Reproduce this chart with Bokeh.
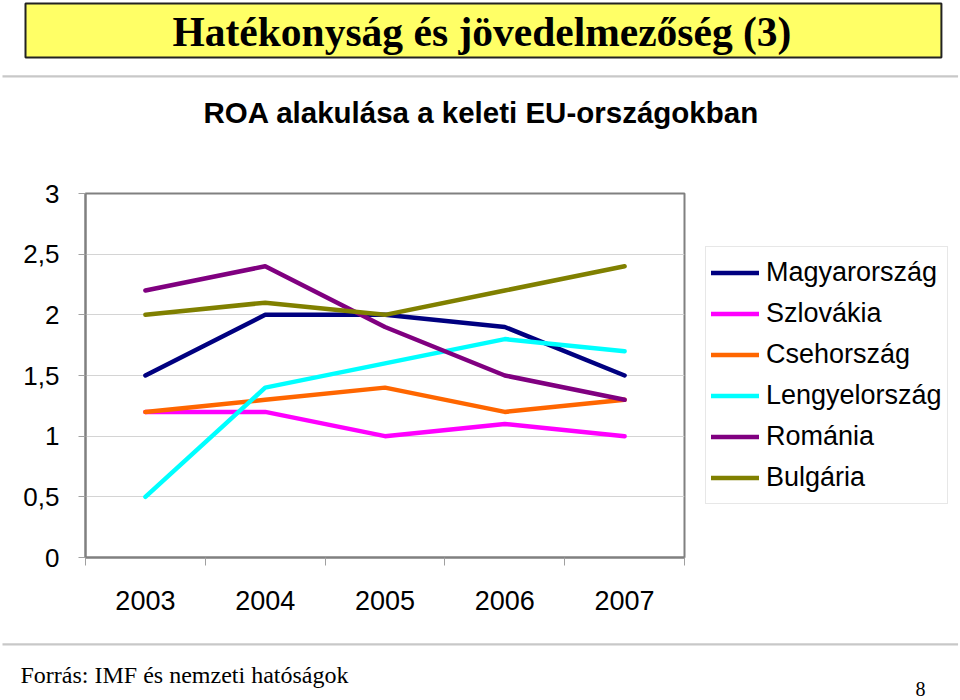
from bokeh.plotting import figure
from bokeh.models import Range1d, FixedTicker, Legend, LegendItem, Title
from bokeh.embed import file_html
from bokeh.resources import INLINE

# ---- data ----
years = [2003, 2004, 2005, 2006, 2007]
year_labels = ["2003", "2004", "2005", "2006", "2007"]
y_ticks = [0, 0.5, 1, 1.5, 2, 2.5, 3]
y_tick_labels = ["0", "0,5", "1", "1,5", "2", "2,5", "3"]

series_names = ["Magyarország", "Szlovákia", "Csehország",
                "Lengyelország", "Románia", "Bulgária"]
magyarorszag = [1.5, 2.0, 2.0, 1.9, 1.5]
szlovakia = [1.2, 1.2, 1.0, 1.1, 1.0]
csehorszag = [1.2, 1.3, 1.4, 1.2, 1.3]
lengyelorszag = [0.5, 1.4, 1.6, 1.8, 1.7]
romania = [2.2, 2.4, 1.9, 1.5, 1.3]
bulgaria = [2.0, 2.1, 2.0, 2.2, 2.4]
series_values = [magyarorszag, szlovakia, csehorszag,
                 lengyelorszag, romania, bulgaria]
colors = ["#000080", "#FF00FF", "#FF6600", "#00FFFF", "#800080", "#808000"]

main_title = "Hatékonyság és jövedelmezőség (3)"
chart_title = "ROA alakulása a keleti EU-országokban"
source_text = "Forrás: IMF és nemzeti hatóságok"
page_number = "8"

# ---- figure ----
FL, FT, FW, FH = 85, 193, 599, 364
FR, FB = FL + FW, FT + FH
p = figure(title=None, frame_width=FW, frame_height=FH,
           min_border_left=FL, min_border_right=960 - FR,
           min_border_top=FT, min_border_bottom=700 - FB,
           x_range=Range1d(years[0] - 0.5, years[-1] + 0.5),
           y_range=Range1d(y_ticks[0], y_ticks[-1]),
           output_backend="svg", toolbar_location=None,
           background_fill_color="white", border_fill_color="white")

p.outline_line_color = "#808080"
p.outline_line_width = 2

# x axis: labels at the years, small ticks between categories
p.xaxis.ticker = FixedTicker(ticks=years,
                             minor_ticks=[y - 0.5 for y in years] + [years[-1] + 0.5])
p.xaxis.major_label_overrides = {y: l for y, l in zip(years, year_labels)}
p.xaxis.major_tick_out = 0
p.xaxis.major_tick_in = 0
p.xaxis.minor_tick_out = 8
p.xaxis.minor_tick_in = 0
p.xaxis.minor_tick_line_color = "#A0A0A0"
p.xaxis.axis_line_color = "#808080"
p.xaxis.axis_line_width = 2
p.xaxis.major_label_standoff = 25
p.xaxis.major_label_text_font = "Liberation Sans"
p.xaxis.major_label_text_font_size = "27px"
p.xaxis.major_label_text_color = "black"

# y axis
p.yaxis.ticker = FixedTicker(ticks=y_ticks, minor_ticks=[])
p.yaxis.major_label_overrides = {t: l for t, l in zip(y_ticks, y_tick_labels)}
p.yaxis.major_tick_out = 7
p.yaxis.major_tick_in = 0
p.yaxis.major_tick_line_color = "#A0A0A0"
p.yaxis.minor_tick_line_color = None
p.yaxis.axis_line_color = "#808080"
p.yaxis.axis_line_width = 2
p.yaxis.major_label_standoff = 19
p.yaxis.major_label_text_font = "Liberation Sans"
p.yaxis.major_label_text_font_size = "26px"
p.yaxis.major_label_text_color = "black"

p.xgrid.grid_line_color = None
p.ygrid.grid_line_color = "#D4D4D4"
p.ygrid.grid_line_width = 1

# ---- series ----
renderers = []
for vals, col in zip(series_values, colors):
    r = p.line(years, vals, line_color=col, line_width=4.5,
               line_join="round", line_cap="round")
    renderers.append(r)

legend = Legend(items=[LegendItem(label=n, renderers=[r])
                       for n, r in zip(series_names, renderers)],
                location=(21, 53),
                background_fill_color="white", background_fill_alpha=1,
                border_line_color="#D0D0D0", border_line_width=1.5,
                padding=5, margin=0, spacing=0,
                label_height=41, glyph_height=41, glyph_width=48,
                label_standoff=7, label_text_font="Liberation Sans",
                label_text_font_size="27px", label_text_color="black")
p.add_layout(legend, "right")


def spacer(gap):
    return Title(text=" ", text_font_size="2px", standoff=gap)


def rule(gap):
    # thin grey horizontal rule (edge of the chart area box)
    return Title(text=" ", text_font_size="2px", standoff=gap, align="left",
                 offset=2 - FL, vertical_align="bottom",
                 background_fill_color="#C8C8C8", border_line_color=None,
                 padding={"left": 0, "right": 955, "top": 0, "bottom": 0})


# ---- titles above (first = nearest to the plot) ----
p.add_layout(spacer(61), "above")
p.add_layout(Title(text=chart_title, align="left", offset=118, standoff=0,
                   vertical_align="bottom", text_font="Liberation Sans",
                   text_font_style="bold", text_font_size="29.5px",
                   text_color="black"), "above")
p.add_layout(rule(32), "above")
p.add_layout(Title(text=main_title, align="left", offset=-60, standoff=0,
                   vertical_align="bottom", text_font="Liberation Serif",
                   text_font_style="bold", text_font_size="41.5px",
                   text_color="black",
                   background_fill_color="#FFFF66", border_line_color="#222222",
                   border_line_width=2,
                   padding={"left": 147, "right": 150, "top": 5, "bottom": 3}),
             "above")

# ---- footer below the x axis ----
p.add_layout(spacer(25), "below")
p.add_layout(rule(0), "below")
p.add_layout(spacer(10), "below")
p.add_layout(Title(text=source_text, align="left", offset=-65, standoff=0,
                   vertical_align="bottom", text_font="Liberation Serif",
                   text_font_style="normal", text_font_size="24px",
                   text_color="black"), "below")
p.add_layout(Title(text=page_number, align="right", offset=-241, standoff=-11,
                   vertical_align="top", text_font="Liberation Serif",
                   text_font_style="normal", text_font_size="20px",
                   text_color="black"), "below")

open("out.html", "w").write(file_html(p, INLINE))
